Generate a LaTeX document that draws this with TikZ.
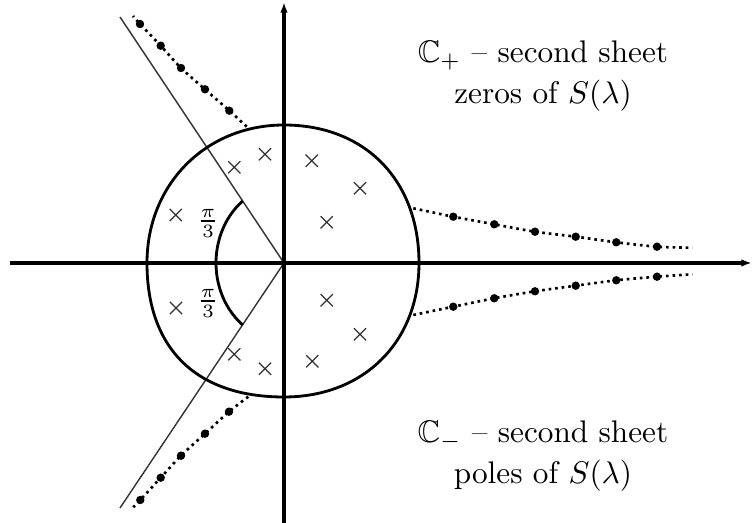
\documentclass[tikz,border=0pt]{standalone}
\usepackage{amssymb}
\usetikzlibrary{arrows.meta,shapes.misc}
\begin{document}
\begin{tikzpicture}[x=0.32pt,y=0.32pt,
  axis/.style={line width=1pt,-{Latex[length=3.4pt,width=2.4pt]}},
  contour/.style={line width=0.9pt},
  ray/.style={line width=0.45pt,black!80},
  anglearc/.style={line width=0.9pt},
  zero/.style={cross out,draw=black!80,line width=0.4pt,minimum size=3.5pt,inner sep=0pt},
  dotline/.style={line width=0.85pt,dash pattern=on 0.85pt off 1.25pt},
  lbl/.style={align=center,font=\fontsize{10}{13}\selectfont},
  frac/.style={font=\footnotesize,inner sep=0pt}]
\useasboundingbox (-284,-260) rectangle (469,263);
\coordinate (O) at (0,0);
\coordinate (xl) at (-274,0);
\coordinate (xr) at (468,0);
\coordinate (yb) at (0,-260);
\coordinate (yt) at (0,261);
\coordinate (rt) at (-164,246);
\coordinate (rb) at (-164,-245);
% rays
\draw[ray] (O) -- (rt);
\draw[ray] (O) -- (rb);
% contour
\draw[contour] (135,0) .. controls (135,82.8) and (81,138) .. (0,138)
  .. controls (-78.1,138) and (-137,78.7) .. (-137,0)
  .. controls (-137,-85.8) and (-87.7,-134) .. (0,-134)
  .. controls (79.7,-134) and (135,-79) .. cycle;
% angle arc
\draw[anglearc] (-41.3,62) arc[start angle=127.4,end angle=232.6,x radius=68,y radius=78];
\node[frac] (pa) at (-76,40) {$\frac{\pi}{3}$};
\node[frac] (pb) at (-76,-40) {$\frac{\pi}{3}$};
% crosses
\node[zero] (z1) at (27.7,102.3) {};
\node[zero] (z2) at (76,74.7) {};
\node[zero] (z3) at (42.7,40.7) {};
\node[zero] (z4) at (-19,108.7) {};
\node[zero] (z5) at (-49.7,95.7) {};
\node[zero] (z6) at (-108.3,48) {};
\node[zero] (p1) at (42.7,-37.3) {};
\node[zero] (p2) at (76,-71.3) {};
\node[zero] (p3) at (28.3,-98.3) {};
\node[zero] (p4) at (-108,-45) {};
\node[zero] (p5) at (-49.7,-91.3) {};
\node[zero] (p6) at (-19,-105.7) {};
% dotted chains
\foreach \x/\y [count=\i] in {129.3/54.7,169.3/46.3,210.3/38.7,251/31.3,291.7/26.3,332.3/20.7,373/16.3,408.3/15.3}
  \coordinate (a\i) at (\x,\y);
\foreach \x/\y [count=\i] in {129.3/-52,169.3/-43.7,210.3/-35.3,251/-28.3,291.7/-22.7,332.3/-17.3,373/-13.7,408.3/-11.3}
  \coordinate (b\i) at (\x,\y);
\foreach \x/\y [count=\i] in {-37.3/136.3,-54.7/152.3,-79/173.7,-103/195,-123.3/217.3,-144/239,-151/247}
  \coordinate (c\i) at (\x,\y);
\foreach \x/\y [count=\i] in {-35.7/-133.7,-55/-148.7,-79/-170.7,-103/-192.7,-123.3/-214.7,-143.7/-237,-150.7/-244.3}
  \coordinate (d\i) at (\x,\y);
\draw[dotline] plot[smooth] coordinates {(a1) (a2) (a3) (a4) (a5) (a6) (a7) (a8)};
\draw[dotline] plot[smooth] coordinates {(b1) (b2) (b3) (b4) (b5) (b6) (b7) (b8)};
\draw[dotline] plot[smooth] coordinates {(c1) (c2) (c3) (c4) (c5) (c6) (c7)};
\draw[dotline] plot[smooth] coordinates {(d1) (d2) (d3) (d4) (d5) (d6) (d7)};
\foreach \i in {2,...,7} {\fill (a\i) circle[radius=4.2]; \fill (b\i) circle[radius=4.2];}
\foreach \i in {2,...,6} {\fill (c\i) circle[radius=4.2]; \fill (d\i) circle[radius=4.2];}
% axes
\draw[axis] (xl) -- (xr);
\draw[axis] (yb) -- (yt);
% labels
\node[lbl] (tp) at (259,187) {$\mathbb{C}_+$ -- second sheet\\ zeros of $S(\lambda)$};
\node[lbl] (tm) at (259,-193) {$\mathbb{C}_-$ -- second sheet\\ poles of $S(\lambda)$};
\end{tikzpicture}
\end{document}
